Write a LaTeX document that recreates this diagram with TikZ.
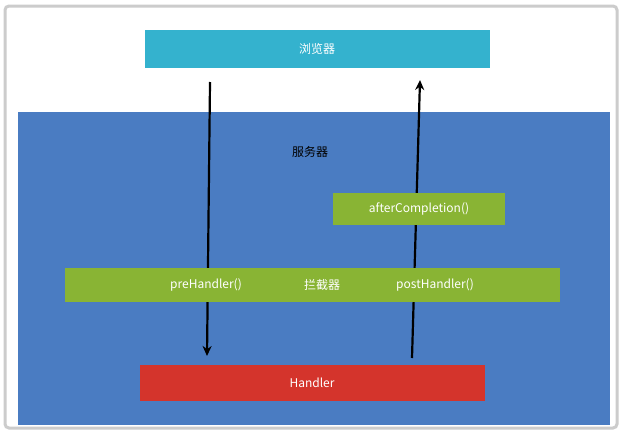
\documentclass[tikz,border=0pt]{standalone}
\usepackage{fontspec}
\setmainfont{Noto Sans CJK SC}
\usetikzlibrary{arrows.meta}
\begin{document}
\begin{tikzpicture}[x=1pt,y=-1pt,
  bar/.style={draw=none,minimum height=34pt,text=white,font=\fontsize{12}{14}\selectfont,inner sep=0pt},
  arr/.style={line width=2.2pt,-{Stealth[length=10pt,width=9pt]}}]
\useasboundingbox (0,0) rectangle (623,434);
\fill[white] (0,0) rectangle (623,434);
\draw[gray!40,line width=3pt,rounded corners=4pt] (5,6) rectangle (617,428);
\fill[fill={rgb,255:red,74;green,124;blue,194}] (18,112) rectangle (610,425);
\node[bar,minimum width=345pt,minimum height=38pt,fill={rgb,255:red,52;green,178;blue,206}] (browser) at (317,49) {浏览器};
\node[text=black,font=\fontsize{12}{14}\selectfont] (server) at (310,152) {服务器};
\node[bar,minimum width=345pt,minimum height=36pt,fill={rgb,255:red,212;green,52;blue,44}] (handler) at (312,383) {Handler};
\coordinate (d1) at (210,82);
\coordinate (d2) at (207,356);
\coordinate (u1) at (412,358);
\coordinate (u2) at (420,80);
\draw[arr] (d1) -- (d2);
\draw[arr] (u1) -- (u2);
\node[bar,minimum width=172pt,minimum height=32pt,fill={rgb,255:red,137;green,180;blue,52}] (after) at (419,209) {afterCompletion()};
\node[bar,minimum width=495pt,fill={rgb,255:red,137;green,180;blue,52}] (inter) at (312,285) {};
\node[text=white,font=\fontsize{12}{14}\selectfont] (pre) at (206,285) {preHandler()};
\node[text=white,font=\fontsize{12}{14}\selectfont] (lan) at (322,285) {拦截器};
\node[text=white,font=\fontsize{12}{14}\selectfont] (post) at (435,285) {postHandler()};
\end{tikzpicture}
\end{document}
